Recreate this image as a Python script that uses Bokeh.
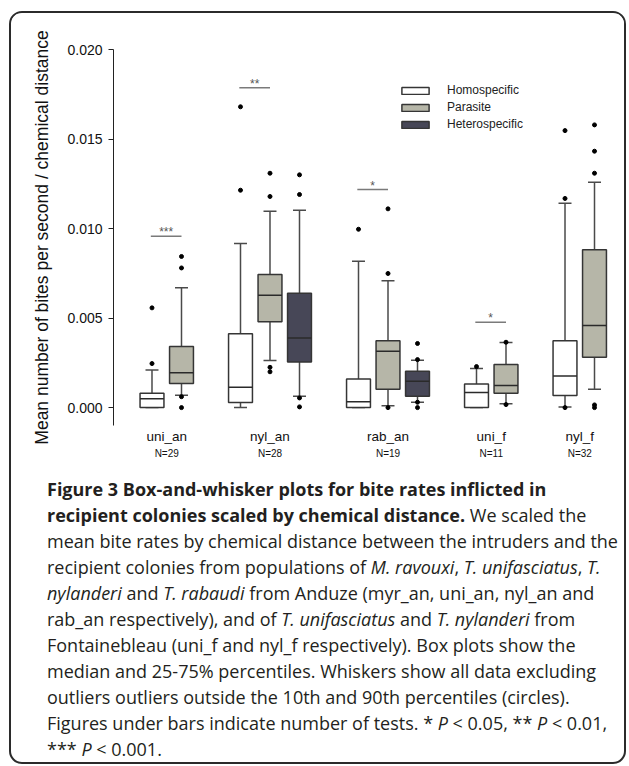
from bokeh.plotting import figure
from bokeh.models import (Range1d, LinearAxis, FixedTicker, Legend, LegendItem,
                          Div, PrintfTickFormatter)
from bokeh.layouts import column
from bokeh.core.properties import value
from bokeh.embed import file_html
from bokeh.resources import INLINE

# ---------------- data ----------------
groups = ["uni_an", "nyl_an", "rab_an", "uni_f", "nyl_f"]
n_tests = [29, 28, 19, 11, 32]
series_names = ["Homospecific", "Parasite", "Heterospecific"]

homo_groups = ["uni_an", "nyl_an", "rab_an", "uni_f", "nyl_f"]
homo_q1 = [0.0, 0.00028, 0.0, 0.0, 0.00067]
homo_med = [0.00049, 0.00113, 0.00032, 0.00084, 0.00177]
homo_q3 = [0.0008, 0.00413, 0.0016, 0.00132, 0.00373]
homo_lo = [0.0, 0.0, 0.0, 0.0, 0.00004]
homo_hi = [0.0021, 0.00916, 0.00817, 0.00218, 0.01141]
homo_out = [[0.00246, 0.00557], [0.01214, 0.0168], [0.00996], [0.00229],
            [0.01168, 0.01547, 0.0]]

para_groups = ["uni_an", "nyl_an", "rab_an", "uni_f", "nyl_f"]
para_q1 = [0.00134, 0.00479, 0.00102, 0.0008, 0.00281]
para_med = [0.00194, 0.00627, 0.00315, 0.00123, 0.00458]
para_q3 = [0.00341, 0.00743, 0.00374, 0.0024, 0.00881]
para_lo = [0.00069, 0.00263, 0.00011, 0.00021, 0.00102]
para_hi = [0.0067, 0.01097, 0.00708, 0.00363, 0.01259]
para_out = [[0.0078, 0.00844, 0.00061, 0.0], [0.01179, 0.01309, 0.00225, 0.002],
            [0.0111, 0.00749, 0.0], [0.00365, 0.00017],
            [0.01309, 0.01432, 0.01579, 0.00015, 0.0]]

hetero_groups = ["nyl_an", "rab_an"]
hetero_q1 = [0.00255, 0.00063]
hetero_med = [0.00389, 0.00147]
hetero_q3 = [0.00639, 0.00203]
hetero_lo = [0.00063, 0.0003]
hetero_hi = [0.01102, 0.00264]
hetero_out = [[0.0119, 0.013, 0.00054, 0.00004], [0.00358, 0.00268, 0.0003, 0.0]]

sig_groups = ["uni_an", "nyl_an", "rab_an", "uni_f"]
sig_stars = ["***", "**", "*", "*"]
sig_y = [0.00957, 0.01786, 0.01218, 0.00477]

y_ticks = [0.0, 0.005, 0.010, 0.015, 0.020]

caption_lines = [
    "<b>Figure 3 Box-and-whisker plots for bite rates inflicted in</b>",
    "<b>recipient colonies scaled by chemical distance.</b> We scaled the",
    "mean bite rates by chemical distance between the intruders and the",
    "recipient colonies from populations of <i>M. ravouxi</i>, <i>T. unifasciatus</i>, <i>T.</i>",
    "<i>nylanderi</i> and <i>T. rabaudi</i> from Anduze (myr_an, uni_an, nyl_an and",
    "rab_an respectively), and of <i>T. unifasciatus</i> and <i>T. nylanderi</i> from",
    "Fontainebleau (uni_f and nyl_f respectively). Box plots show the",
    "median and 25-75% percentiles. Whiskers show all data excluding",
    "outliers outliers outside the 10th and 90th percentiles (circles).",
    "Figures under bars indicate number of tests. * <i>P</i> &lt; 0.05, ** <i>P</i> &lt; 0.01,",
    "*** <i>P</i> &lt; 0.001.",
]

# ---------------- styling ----------------
FONT = "Liberation Sans"
fills = ["#ffffff", "#b6b6a8", "#474757"]
BOX_LINE = "#353535"
WHISK = "#4a4a4a"
BOX_W = 0.81
CAP_W = 0.44

series = [
    (homo_groups, homo_q1, homo_med, homo_q3, homo_lo, homo_hi, homo_out),
    (para_groups, para_q1, para_med, para_q3, para_lo, para_hi, para_out),
    (hetero_groups, hetero_q1, hetero_med, hetero_q3, hetero_lo, hetero_hi, hetero_out),
]

# slot layout: boxes of a group side by side, one empty slot between groups
slot_of = {}
centers = []
s = 0
for g in groups:
    members = [k for k, ser in enumerate(series) if g in ser[0]]
    for j, k in enumerate(members):
        slot_of[(g, k)] = s + j
    centers.append(s + (len(members) - 1) / 2)
    s += len(members) + 1

FIG_W, FIG_H = 613, 463
p = figure(width=FIG_W, height=FIG_H, output_backend="svg", toolbar_location=None,
           x_range=Range1d(-1.305, 15.61), y_range=Range1d(-0.001, 0.020),
           x_axis_type=None, min_border_left=102, min_border_right=12,
           min_border_top=36, min_border_bottom=51)
p.outline_line_color = None
p.xgrid.visible = False
p.ygrid.visible = False
p.background_fill_color = "white"
p.border_fill_color = "white"

yax = p.yaxis[0]
yax.ticker = FixedTicker(ticks=y_ticks)
yax.formatter = PrintfTickFormatter(format="%.3f")
yax.minor_tick_line_color = None
yax.major_tick_in = 0
yax.major_tick_out = 5
yax.major_label_standoff = 6
yax.major_label_text_font = FONT
yax.major_label_text_font_size = "14px"
yax.major_label_text_color = "#111111"
yax.axis_line_color = "#222222"
yax.major_tick_line_color = "#222222"
yax.axis_label = "Mean number of bites per second / chemical distance"
yax.axis_label_text_font = FONT
yax.axis_label_text_font_size = "17.5px"
yax.axis_label_text_font_style = "normal"
yax.axis_label_text_color = "#111111"
yax.axis_label_standoff = 12

box_renderers = []
for k, (grps, q1, med, q3, lo, hi, outs) in enumerate(series):
    xs = [slot_of[(g, k)] for g in grps]
    p.segment(x0=xs, y0=lo, x1=xs, y1=q1, line_color=WHISK, line_width=1.5)
    p.segment(x0=xs, y0=q3, x1=xs, y1=hi, line_color=WHISK, line_width=1.5)
    p.segment(x0=[x - CAP_W / 2 for x in xs], y0=lo, x1=[x + CAP_W / 2 for x in xs], y1=lo,
              line_color=WHISK, line_width=1.5)
    p.segment(x0=[x - CAP_W / 2 for x in xs], y0=hi, x1=[x + CAP_W / 2 for x in xs], y1=hi,
              line_color=WHISK, line_width=1.5)
    r = p.vbar(x=xs, width=BOX_W, bottom=q1, top=q3, fill_color=fills[k],
               line_color=BOX_LINE, line_width=1.5)
    box_renderers.append(r)
    p.segment(x0=[x - BOX_W / 2 for x in xs], y0=med, x1=[x + BOX_W / 2 for x in xs], y1=med,
              line_color="#2a2a2a", line_width=1.5)
    ox, oy = [], []
    for x, o in zip(xs, outs):
        ox += [x] * len(o)
        oy += o
    p.scatter(x=ox, y=oy, size=4, color="black")

# significance bars
sx0 = [slot_of[(g, 0)] - 0.04 for g in sig_groups]
sx1 = [slot_of[(g, 1)] for g in sig_groups]
p.segment(x0=sx0, y0=sig_y, x1=sx1, y1=sig_y, line_color="#7a7a7a", line_width=1.5)
p.text(x=[(a + b) / 2 for a, b in zip(sx0, sx1)], y=sig_y, text=sig_stars,
       text_align="center", text_baseline="alphabetic", text_font=value(FONT),
       text_font_size="12px", text_color="#555555", y_offset=-4)

# legend
legend = Legend(items=[LegendItem(label=n, renderers=[r]) for n, r in zip(series_names, box_renderers)],
                location=(285, 294), orientation="vertical", glyph_width=34, glyph_height=9,
                label_height=12, spacing=3, padding=0, margin=0, label_standoff=15,
                label_text_font=FONT, label_text_font_size="12px", label_text_color="#222222",
                border_line_alpha=0, background_fill_alpha=0)
p.add_layout(legend)

# category axes
xa1 = LinearAxis(ticker=FixedTicker(ticks=centers),
                 major_label_overrides={c: g for c, g in zip(centers, groups)})
xa2 = LinearAxis(ticker=FixedTicker(ticks=centers),
                 major_label_overrides={c: "N=%d" % n for c, n in zip(centers, n_tests)})
for ax, fs, so in ((xa1, "13.5px", 3), (xa2, "10px", 1)):
    ax.axis_line_color = None
    ax.major_tick_line_color = None
    ax.minor_tick_line_color = None
    ax.major_tick_in = 0
    ax.major_tick_out = 0
    ax.major_label_standoff = so
    ax.major_label_text_font = FONT
    ax.major_label_text_font_size = fs
    ax.major_label_text_color = "#111111"
p.add_layout(xa1, "below")
p.add_layout(xa2, "below")

caption = Div(
    text=("<div style='font-family:\"Open Sans\"; font-size:18px; line-height:26px; "
          "color:#231f20; white-space:nowrap; padding-left:36px;'>"
          + "<br>".join(caption_lines) + "</div>"),
    width=FIG_W, height=286, margin=0)

layout = column(p, caption, styles={"border": "2px solid #2b2b2b", "border-radius": "13px",
                                    "overflow": "hidden", "background": "white",
                                    "margin-left": "9px", "margin-top": "11px"})

open("out.html", "w").write(file_html(layout, INLINE))
